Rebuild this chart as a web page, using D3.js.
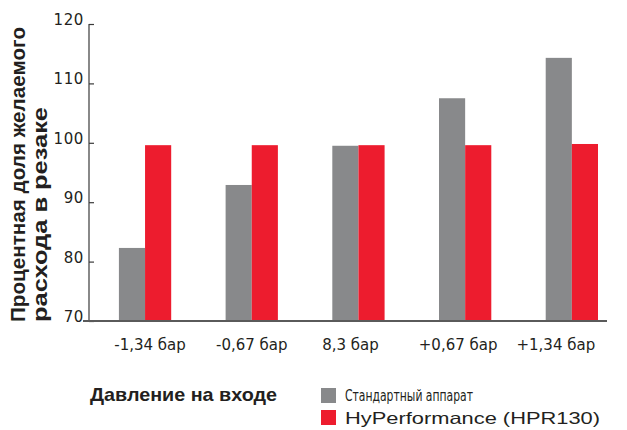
<!DOCTYPE html>
<html>
<head>
<meta charset="utf-8">
<script src="https://cdn.jsdelivr.net/npm/d3@7"></script>
<style>
html,body{margin:0;padding:0;background:#fff;}
svg{display:block;font-family:"Liberation Sans",Arial,sans-serif;}
</style>
</head>
<body>
<svg id="chart" width="627" height="430"></svg>
<script>
const categories = ["-1,34 бар", "-0,67 бар", "8,3 бар", "+0,67 бар", "+1,34 бар"];
const seriesNames = ["Стандартный аппарат", "HyPerformance (HPR130)"];
const standardValues = [82.3, 92.9, 99.5, 107.5, 114.3];
const hprValues = [99.6, 99.6, 99.6, 99.6, 99.8];
const yTicks = [70, 80, 90, 100, 110, 120];
const colors = ["#88898b", "#ed1c2e"];
const textColor = "#231f20";

const svg = d3.select("#chart");

const x = d3.scaleBand().domain(categories).range([91.7, 625.2]).paddingInner(0.51).paddingOuter(0.255);
const xs = d3.scaleBand().domain([0, 1]).range([0, x.bandwidth()]);
const y = d3.scaleLinear().domain([70, 120]).range([321, 24]);

// bars
const data = categories.map((c, i) => ({c, vals: [standardValues[i], hprValues[i]]}));
const g = svg.append("g");
g.selectAll("g.grp").data(data).join("g").attr("class", "grp")
  .attr("transform", d => `translate(${x(d.c)},0)`)
  .selectAll("rect").data(d => d.vals.map((v, k) => ({v, k}))).join("rect")
  .attr("x", d => xs(d.k)).attr("width", xs.bandwidth())
  .attr("y", d => y(d.v)).attr("height", d => y(70) - y(d.v))
  .attr("fill", d => colors[d.k]);

// y axis
const yAxis = svg.append("g").attr("transform", "translate(89,0)")
  .call(d3.axisRight(y).tickValues(yTicks).tickSize(5).tickFormat(""));
yAxis.select(".domain").attr("d", `M0,${y(120)}V${y(70)}`).attr("stroke", "#3a3a3a").attr("stroke-width", 1.2);
yAxis.selectAll(".tick line").attr("stroke", "#3a3a3a").attr("stroke-width", 1.2);
svg.append("g").selectAll("text").data(yTicks).join("text")
  .attr("x", 84).attr("y", d => y(d) + 1)
  .attr("text-anchor", "end").attr("font-size", 15).attr("letter-spacing", 0.6)
  .attr("font-family", "'DejaVu Sans',sans-serif").attr("fill", textColor)
  .text(d => d);

// x axis
const xAxis = svg.append("g").attr("transform", `translate(0,${y(70)})`)
  .call(d3.axisBottom(x).tickSize(0).tickFormat(""));
xAxis.select(".domain").attr("d", "M83,0H607").attr("stroke", "#5a5a5a").attr("stroke-width", 2.2);

const labelOffsets = [5, 0, -8, -7, -16];
svg.append("g").selectAll("text").data(categories).join("text")
  .attr("x", (d, i) => x(d) + x.bandwidth() / 2 + labelOffsets[i])
  .attr("y", 349.5)
  .attr("text-anchor", "middle").attr("font-size", 15)
  .attr("font-family", "'DejaVu Sans',sans-serif").attr("fill", textColor)
  .text(d => d);

// y title
const yt = svg.append("text").attr("transform", "translate(0,322) rotate(-90)")
  .attr("font-size", 21).attr("font-weight", "bold").attr("fill", textColor)
  .attr("lengthAdjust", "spacingAndGlyphs");
yt.append("tspan").attr("x", 0).attr("y", 25).attr("textLength", 295).attr("lengthAdjust", "spacingAndGlyphs").text("Процентная доля желаемого");
yt.append("tspan").attr("x", 0).attr("y", 46.5).attr("textLength", 215).attr("lengthAdjust", "spacingAndGlyphs").text("расхода в резаке");

// x title
svg.append("text").attr("x", 90).attr("y", 401)
  .attr("font-size", 18.5).attr("font-weight", "bold").attr("fill", textColor)
  .attr("textLength", 187).attr("lengthAdjust", "spacingAndGlyphs")
  .text("Давление на входе");

// legend
const leg = svg.append("g");
seriesNames.forEach((n, k) => {
  const yy = 388 + k * 22;
  leg.append("rect").attr("x", 321).attr("y", yy).attr("width", 15).attr("height", 15).attr("fill", colors[k]);
  const t = leg.append("text").attr("x", 345).attr("fill", textColor).text(n);
  if (k === 0) t.attr("y", yy + 13).attr("font-size", 15).attr("font-family", "'Liberation Sans Narrow','DejaVu Sans Condensed',sans-serif").attr("textLength", 128).attr("lengthAdjust", "spacingAndGlyphs");
  else t.attr("y", yy + 14).attr("font-size", 16.5).attr("textLength", 255).attr("lengthAdjust", "spacingAndGlyphs");
});
</script>
</body>
</html>
